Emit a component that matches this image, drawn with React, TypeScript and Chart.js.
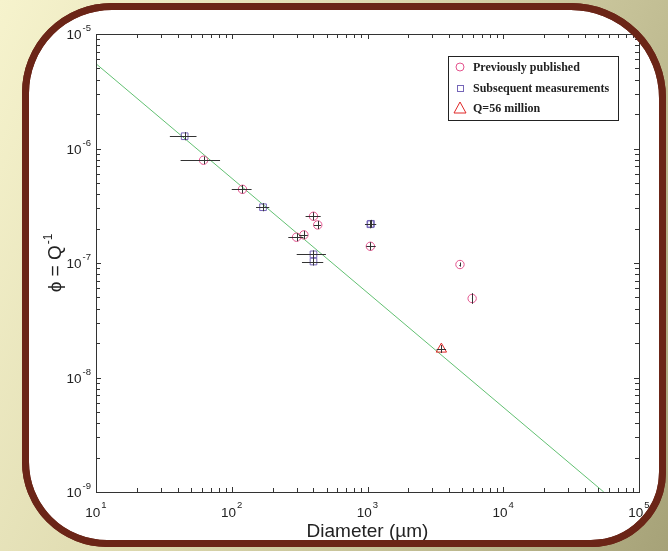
import React, { useEffect, useRef } from "react";
import { Chart, registerables } from "chart.js";

Chart.register(...registerables);

// ---- axis ranges / tick exponents ----
const xExponents = [1, 2, 3, 4, 5];
const yExponents = [-9, -8, -7, -6, -5];

// ---- fitted line (phi ~ 1/D) ----
const fitDiameter = [10, 55000];
const fitPhi = [5.5e-6, 1.0e-9];

// ---- previously published (circles) ----
const pubDiameter = [62, 120, 400, 430, 340, 300, 1050, 4800, 5900];
const pubPhi = [7.9e-7, 4.4e-7, 2.56e-7, 2.15e-7, 1.76e-7, 1.68e-7, 1.4e-7, 9.7e-8, 4.9e-8];
const pubDiameterLo = [42, 100, 350, 403, 314, 261, 980, 4750, 5880];
const pubDiameterHi = [82, 140, 452, 454, 363, 337, 1150, 4850, 5920];
const pubPhiLo = [7.3e-7, 4.05e-7, 2.36e-7, 1.98e-7, 1.62e-7, 1.55e-7, 1.29e-7, 9.3e-8, 4.4e-8];
const pubPhiHi = [8.5e-7, 4.8e-7, 2.78e-7, 2.33e-7, 1.91e-7, 1.82e-7, 1.52e-7, 1.01e-7, 5.45e-8];

// ---- subsequent measurements (squares) ----
const subDiameter = [45, 170, 400, 400, 1050, 1060];
const subPhi = [1.28e-6, 3.07e-7, 1.19e-7, 1.03e-7, 2.18e-7, 2.2e-7];
const subDiameterLo = [35, 151, 301, 329, 958, 970];
const subDiameterHi = [55, 189, 494, 472, 1155, 1160];
const subPhiLo = [1.18e-6, 2.83e-7, 1.1e-7, 0.95e-7, 2.01e-7, 2.03e-7];
const subPhiHi = [1.39e-6, 3.33e-7, 1.29e-7, 1.12e-7, 2.36e-7, 2.38e-7];

// ---- Q = 56 million (triangle) ----
const qDiameter = [3500];
const qPhi = [1.77e-8];
const qDiameterLo = [3230];
const qDiameterHi = [3790];
const qPhiLo = [1.64e-8];
const qPhiHi = [1.92e-8];

const legendLabels = ["Previously published", "Subsequent measurements", "Q=56 million"];

const PINK = "#e4548e";
const PURPLE = "#7565b8";
const RED = "#e02828";
const GREEN = "#62c072";
const INK = "#222222";

const toPts = (xs: number[], ys: number[]) => xs.map((x, i) => ({ x, y: ys[i] }));

const errorGroups = [
  { d: pubDiameter, p: pubPhi, dLo: pubDiameterLo, dHi: pubDiameterHi, pLo: pubPhiLo, pHi: pubPhiHi },
  { d: subDiameter, p: subPhi, dLo: subDiameterLo, dHi: subDiameterHi, pLo: subPhiLo, pHi: subPhiHi },
  { d: qDiameter, p: qPhi, dLo: qDiameterLo, dHi: qDiameterHi, pLo: qPhiLo, pHi: qPhiHi },
];

const errorBarPlugin = {
  id: "errorBars",
  afterDatasetsDraw(chart: any) {
    const ctx = chart.ctx;
    const xs = chart.scales.x;
    const ys = chart.scales.y;
    ctx.save();
    ctx.strokeStyle = "#333333";
    ctx.lineWidth = 1;
    for (const g of errorGroups) {
      for (let i = 0; i < g.d.length; i++) {
        const px = Math.round(xs.getPixelForValue(g.d[i])) + 0.5;
        const py = Math.round(ys.getPixelForValue(g.p[i])) + 0.5;
        ctx.beginPath();
        ctx.moveTo(xs.getPixelForValue(g.dLo[i]), py);
        ctx.lineTo(xs.getPixelForValue(g.dHi[i]), py);
        ctx.moveTo(px, ys.getPixelForValue(g.pLo[i]));
        ctx.lineTo(px, ys.getPixelForValue(g.pHi[i]));
        ctx.stroke();
      }
    }
    ctx.restore();
  },
};

const SANS = '"Liberation Sans", Arial, Helvetica, sans-serif';
const SERIF = '"Liberation Serif", "DejaVu Serif", serif';

const axesPlugin = {
  id: "matlabAxes",
  afterDraw(chart: any) {
    const ctx = chart.ctx;
    const { left, right, top, bottom } = chart.chartArea;
    const xs = chart.scales.x;
    const ys = chart.scales.y;
    ctx.save();
    ctx.strokeStyle = "#333";
    ctx.lineWidth = 1;
    // box
    ctx.strokeRect(Math.round(left) + 0.5, Math.round(top) + 0.5, Math.round(right - left), Math.round(bottom - top));
    // ticks
    ctx.beginPath();
    const xMax = Math.pow(10, xExponents[xExponents.length - 1]);
    for (let e = xExponents[0]; e <= xExponents[xExponents.length - 1]; e++) {
      for (let m = 1; m <= 9; m++) {
        const v = m * Math.pow(10, e);
        if (v > xMax * 1.0001) continue;
        const px = Math.round(xs.getPixelForValue(v)) + 0.5;
        const len = m === 1 ? 5 : 4;
        ctx.moveTo(px, bottom);
        ctx.lineTo(px, bottom - len);
        ctx.moveTo(px, top);
        ctx.lineTo(px, top + len);
      }
    }
    const yMax = Math.pow(10, yExponents[yExponents.length - 1]);
    for (let e = yExponents[0]; e <= yExponents[yExponents.length - 1]; e++) {
      for (let m = 1; m <= 9; m++) {
        const v = m * Math.pow(10, e);
        if (v > yMax * 1.0001) continue;
        const py = Math.round(ys.getPixelForValue(v)) + 0.5;
        const len = m === 1 ? 5 : 4;
        ctx.moveTo(left, py);
        ctx.lineTo(left + len, py);
        ctx.moveTo(right, py);
        ctx.lineTo(right - len, py);
      }
    }
    ctx.stroke();

    // tick labels
    ctx.fillStyle = INK;
    ctx.textBaseline = "alphabetic";
    ctx.textAlign = "left";
    const bigFont = `13.5px ${SANS}`;
    const supFont = `9.5px ${SANS}`;
    for (const e of xExponents) {
      const px = xs.getPixelForValue(Math.pow(10, e));
      ctx.font = bigFont;
      const w1 = ctx.measureText("10").width;
      ctx.font = supFont;
      const sup = String(e);
      const w2 = ctx.measureText(sup).width;
      const x0 = px - (w1 + w2 + 1) / 2;
      ctx.font = bigFont;
      ctx.fillText("10", x0, bottom + 25);
      ctx.font = supFont;
      ctx.fillText(sup, x0 + w1 + 1, bottom + 16);
    }
    for (const e of yExponents) {
      const py = ys.getPixelForValue(Math.pow(10, e));
      ctx.font = supFont;
      const sup = String(e);
      const w2 = ctx.measureText(sup).width;
      ctx.font = bigFont;
      const w1 = ctx.measureText("10").width;
      const xr = left - 5;
      ctx.fillText("10", xr - w2 - 1 - w1, py + 5);
      ctx.font = supFont;
      ctx.fillText(sup, xr - w2, py - 3);
    }

    // axis titles
    ctx.font = `19px ${SANS}`;
    ctx.textAlign = "center";
    ctx.fillText("Diameter (\u00b5m)", (left + right) / 2, bottom + 45);

    ctx.save();
    ctx.translate(left - 35, (top + bottom) / 2);
    ctx.rotate(-Math.PI / 2);
    ctx.textAlign = "left";
    const main = "\u03d5 = Q";
    const supT = "-1";
    ctx.font = `19px ${SANS}`;
    const wm = ctx.measureText(main).width;
    ctx.font = `12px ${SANS}`;
    const ws = ctx.measureText(supT).width;
    const sx = -(wm + ws + 1) / 2;
    ctx.font = `19px ${SANS}`;
    ctx.fillText(main, sx, 0);
    ctx.font = `12px ${SANS}`;
    ctx.fillText(supT, sx + wm + 1, -9);
    ctx.restore();

    // legend
    const lx = 448, ly = 56, lw = 170, lh = 64;
    ctx.fillStyle = "#fff";
    ctx.fillRect(lx, ly, lw, lh);
    ctx.strokeStyle = "#222";
    ctx.lineWidth = 1;
    ctx.strokeRect(lx + 0.5, ly + 0.5, lw, lh);
    const rows = [67, 88, 108];
    ctx.strokeStyle = PINK;
    ctx.beginPath();
    ctx.arc(460, rows[0], 4, 0, Math.PI * 2);
    ctx.stroke();
    ctx.strokeStyle = PURPLE;
    ctx.strokeRect(457.5, rows[1] - 2.5, 6, 6);
    ctx.strokeStyle = RED;
    ctx.beginPath();
    ctx.moveTo(460, rows[2] - 6);
    ctx.lineTo(466, rows[2] + 5);
    ctx.lineTo(454, rows[2] + 5);
    ctx.closePath();
    ctx.stroke();
    ctx.fillStyle = INK;
    ctx.font = `bold 12px ${SERIF}`;
    ctx.textAlign = "left";
    ctx.textBaseline = "middle";
    legendLabels.forEach((t, i) => ctx.fillText(t, 473, rows[i] + 1));
    ctx.restore();
  },
};

export default function App() {
  const canvasRef = useRef<HTMLCanvasElement | null>(null);

  useEffect(() => {
    const canvas = canvasRef.current;
    if (!canvas) return;
    const chart = new Chart(canvas, {
      type: "scatter",
      data: {
        datasets: [
          {
            label: "fit",
            data: toPts(fitDiameter, fitPhi),
            showLine: true,
            borderColor: GREEN,
            borderWidth: 1,
            pointRadius: 0,
            order: 5,
          },
          {
            label: legendLabels[0],
            data: toPts(pubDiameter, pubPhi),
            pointStyle: "circle",
            pointRadius: 4.2,
            borderColor: PINK,
            backgroundColor: "rgba(0,0,0,0)",
            borderWidth: 1,
            order: 1,
          },
          {
            label: legendLabels[1],
            data: toPts(subDiameter, subPhi),
            pointStyle: "rect",
            pointRadius: 4.7,
            borderColor: PURPLE,
            backgroundColor: "rgba(0,0,0,0)",
            borderWidth: 1,
            order: 2,
          },
          {
            label: legendLabels[2],
            data: toPts(qDiameter, qPhi),
            pointStyle: "triangle",
            pointRadius: 6,
            borderColor: RED,
            backgroundColor: "rgba(0,0,0,0)",
            borderWidth: 1,
            order: 0,
          },
        ],
      },
      options: {
        animation: false,
        responsive: false,
        devicePixelRatio: 1,
        layout: { padding: { left: 96, top: 34, right: 29, bottom: 59 } },
        plugins: { legend: { display: false }, tooltip: { enabled: false } },
        scales: {
          x: {
            type: "logarithmic",
            min: Math.pow(10, xExponents[0]),
            max: Math.pow(10, xExponents[xExponents.length - 1]),
            display: false,
          },
          y: {
            type: "logarithmic",
            min: Math.pow(10, yExponents[0]),
            max: Math.pow(10, yExponents[yExponents.length - 1]),
            display: false,
          },
        },
      },
      plugins: [errorBarPlugin, axesPlugin],
    });
    return () => chart.destroy();
  }, []);

  const radii = "90px 95px 75px 85px";
  const frame = {
    position: "absolute" as const,
    left: 22,
    top: 3,
    width: 630,
    height: 530,
    border: "7px solid #6b2517",
    borderRadius: radii,
  };

  return (
    <div
      style={{
        position: "absolute",
        left: 0,
        top: 0,
        width: 668,
        height: 551,
        overflow: "hidden",
        background: "linear-gradient(115deg, #f6f3cd 0%, #e2deb4 35%, #c4c096 70%, #a6a278 100%)",
      }}
    >
      <div style={{ ...frame, background: "#ffffff" }} />
      <canvas
        ref={canvasRef}
        width={668}
        height={551}
        style={{
          position: "absolute",
          left: 0,
          top: 0,
          clipPath: `inset(3px 2px 4px 22px round ${radii})`,
        }}
      />
      <div style={{ ...frame, background: "transparent", pointerEvents: "none" }} />
    </div>
  );
}
